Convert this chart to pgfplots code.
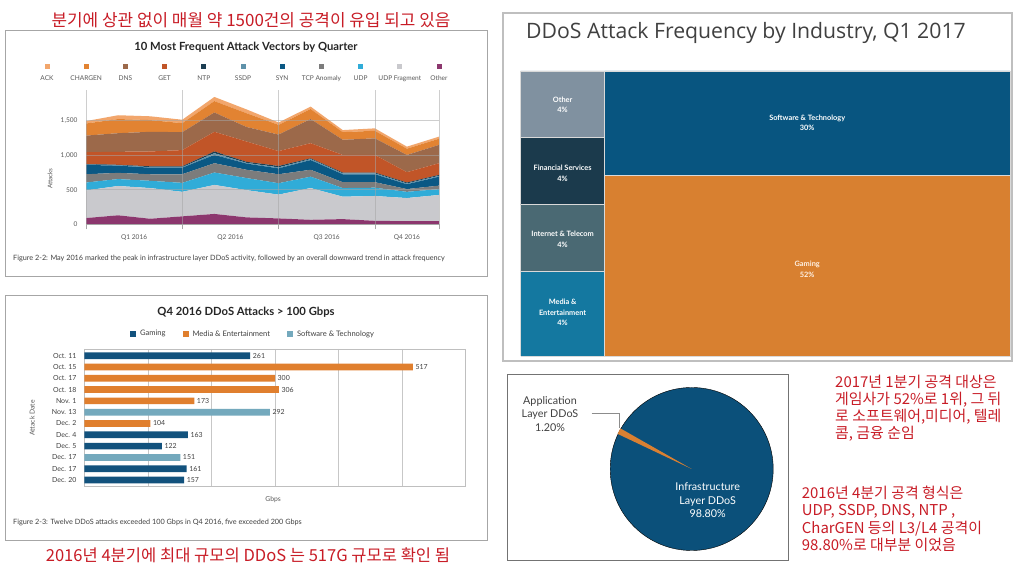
\documentclass[border=0pt]{standalone}
\usepackage{pgfplots}
\pgfplotsset{compat=1.18}
\usepackage{pgfplotstable}
\usepackage{fontspec}
\setmainfont{Lato}
\newfontfamily\kr{Noto Sans CJK KR}
\newfontfamily\ttl{Open Sans}

\definecolor{cAck}{RGB}{242,166,108}
\definecolor{cChargen}{RGB}{226,131,50}
\definecolor{cDns}{RGB}{156,105,74}
\definecolor{cGet}{RGB}{193,85,40}
\definecolor{cNtp}{RGB}{28,62,82}
\definecolor{cSsdp}{RGB}{95,146,170}
\definecolor{cSyn}{RGB}{10,88,132}
\definecolor{cTcp}{RGB}{124,124,124}
\definecolor{cUdp}{RGB}{48,172,216}
\definecolor{cUdpf}{RGB}{201,201,205}
\definecolor{cOther}{RGB}{140,55,110}

\definecolor{cGame}{RGB}{18,82,125}
\definecolor{cMediaB}{RGB}{224,127,46}
\definecolor{cSoft}{RGB}{116,169,189}

\definecolor{tOther}{RGB}{128,145,160}
\definecolor{tFin}{RGB}{27,58,76}
\definecolor{tNet}{RGB}{74,105,115}
\definecolor{tMedia}{RGB}{20,120,160}
\definecolor{tSoft}{RGB}{8,85,128}
\definecolor{tGame}{RGB}{216,128,48}

\definecolor{pBlue}{RGB}{11,80,122}
\definecolor{pOrange}{RGB}{217,128,50}
\definecolor{krred}{RGB}{200,28,38}

\newcommand{\lgbox}[1]{\makebox[39.2bp][c]{#1}}

\pgfplotstableread{
m other udpf udp tcp syn ssdp ntp get dns chargen ack
0 90 400 115 120 135 6 8 171 240 175 35
1 130 425 100 90 105 6 6 188 270 205 55
2 80 445 105 95 95 8 12 215 285 170 55
3 115 355 130 125 95 8 12 235 260 130 50
4 150 420 180 135 120 25 25 285 280 165 60
5 100 395 175 120 90 10 15 295 210 200 55
6 85 345 165 130 85 15 20 215 240 140 35
7 65 460 165 100 140 15 10 220 350 145 35
8 75 325 125 85 115 13 12 255 220 110 30
9 50 360 120 80 115 13 12 255 240 110 35
10 45 335 90 40 70 12 13 150 250 90 30
11 45 380 85 50 130 12 13 170 265 90 30
}\areadata

\begin{document}
\begin{tikzpicture}[x=1bp,y=1bp]
\path[use as bounding box, fill=white] (0,0) rectangle (1024,573);

% panel frames
\draw[black!35, line width=0.8bp] (5,297) rectangle (487,543);
\draw[black!35, line width=0.8bp] (5,33) rectangle (487,278);
\draw[black!25, line width=1.2bp] (503,212) rectangle (1012,560);
\draw[black!55, line width=1bp] (507,12) rectangle (788,198);

% ---------------- area chart ----------------
\begin{axis}[
  at={(86bp,348.7bp)}, anchor=south west,
  scale only axis, width=353bp, height=134.3bp,
  xmin=0, xmax=11, ymin=0, ymax=1946,
  stack plots=y, axis on top,
  axis x line*=bottom, axis y line*=left,
  y axis line style={draw=none},
  x axis line style={draw=black!35, line width=0.6bp},
  xtick={0,3,6,9,11}, xticklabels={,,,,},
  extra x ticks={1.5,4.5,7.5,10},
  extra x tick labels={Q1 2016,Q2 2016,Q3 2016,Q4 2016},
  extra x tick style={grid=none, major tick length=0pt},
  xmajorgrids, ymajorgrids,
  ytick={0,500,1000,1500},
  grid style={draw=black!35, line width=0.6bp, opacity=0.55},
  tick align=outside, major tick length=5bp,
  xtick style={draw=black!35, line width=0.6bp},
  ytick style={draw=none},
  /pgf/number format/.cd, 1000 sep={,}, assume math mode=true, /pgfplots/.cd,
  yticklabel style={font=\fontsize{6.6}{7}\selectfont, text=black!65},
  xticklabel style={font=\fontsize{6.6}{7}\selectfont, text=black!65, yshift=-7bp},
  ylabel={Attacks},
  ylabel style={at={(axis description cs:-0.102,0.34)}, anchor=center, font=\fontsize{6.4}{7}\selectfont, text=black!65},
  legend columns=11, reverse legend, legend cell align=center,
  legend image code/.code={\fill[#1,overlay] (17.1bp,9.5bp) rectangle (22.1bp,14.5bp);},
  legend style={at={(0.4448,1.082)}, anchor=center, draw=none, fill=none,
    /tikz/column sep=0pt, row sep=0pt,
    nodes={inner sep=0pt, font=\fontsize{6.6}{7}\selectfont, text=black!65}},
]
\addplot[fill=cOther, draw=none] table[x=m, y=other] {\areadata} \closedcycle;
\addlegendentry{\lgbox{Other}}
\addplot[fill=cUdpf, draw=none] table[x=m, y=udpf] {\areadata} \closedcycle;
\addlegendentry{\lgbox{UDP Fragment}}
\addplot[fill=cUdp, draw=none] table[x=m, y=udp] {\areadata} \closedcycle;
\addlegendentry{\lgbox{UDP}}
\addplot[fill=cTcp, draw=none] table[x=m, y=tcp] {\areadata} \closedcycle;
\addlegendentry{\lgbox{TCP Anomaly}}
\addplot[fill=cSyn, draw=none] table[x=m, y=syn] {\areadata} \closedcycle;
\addlegendentry{\lgbox{SYN}}
\addplot[fill=cSsdp, draw=none] table[x=m, y=ssdp] {\areadata} \closedcycle;
\addlegendentry{\lgbox{SSDP}}
\addplot[fill=cNtp, draw=none] table[x=m, y=ntp] {\areadata} \closedcycle;
\addlegendentry{\lgbox{NTP}}
\addplot[fill=cGet, draw=none] table[x=m, y=get] {\areadata} \closedcycle;
\addlegendentry{\lgbox{GET}}
\addplot[fill=cDns, draw=none] table[x=m, y=dns] {\areadata} \closedcycle;
\addlegendentry{\lgbox{DNS}}
\addplot[fill=cChargen, draw=none] table[x=m, y=chargen] {\areadata} \closedcycle;
\addlegendentry{\lgbox{CHARGEN}}
\addplot[fill=cAck, draw=none] table[x=m, y=ack] {\areadata} \closedcycle;
\addlegendentry{\lgbox{ACK}}
\end{axis}

\node[font=\bfseries\fontsize{11.3}{13}\selectfont, text=black!85] at (246,525.7) {10 Most Frequent Attack Vectors by Quarter};
\node[anchor=west, inner sep=0pt, font=\fontsize{7.3}{8}\selectfont, text=black!75] at (13,315) {Figure 2-2: May 2016 marked the peak in infrastructure layer DDoS activity, followed by an overall downward trend in attack frequency};

% ---------------- bar chart ----------------
\begin{axis}[
  at={(84.3bp,86.3bp)}, anchor=south west,
  scale only axis, width=381.4bp, height=137.7bp,
  xbar, bar shift=0pt, bar width=6.7bp,
  xmin=0, xmax=600, xtick={0,100,...,600}, xticklabels={,,,,,,},
  xmajorgrids, grid style={draw=black!22, line width=0.6bp},
  ymin=-0.59, ymax=11.59, y dir=reverse, ytick={0,...,11},
  yticklabels={Oct. 11,Oct. 15,Oct. 17,Oct. 18,Nov. 1,Nov. 13,Dec. 2,Dec. 4,Dec. 5,Dec. 17,Dec. 17,Dec. 20},
  axis line style={draw=black!25, line width=0.8bp},
  tick style={draw=none},
  yticklabel style={font=\fontsize{7}{8}\selectfont, text=black!75},
  nodes near coords, point meta=x,
  /pgf/number format/assume math mode=true,
  nodes near coords style={font=\fontsize{7}{8}\selectfont, text=black!75, anchor=west, inner sep=2.5bp},
  ylabel={Attack Date},
  ylabel style={at={(axis description cs:-0.137,0.5)}, anchor=center, font=\fontsize{6.8}{8}\selectfont, text=black!65},
  xlabel={Gbps},
  xlabel style={at={(axis description cs:0.495,-0.0966)}, anchor=center, font=\fontsize{6.8}{8}\selectfont, text=black!65},
  legend columns=3,
  legend image code/.code={\fill[#1] (0bp,-3bp) rectangle (6bp,3bp);},
  legend style={at={(0.441,1.109)}, anchor=center, draw=none, fill=none,
    /tikz/every odd column/.append style={column sep=3bp},
    /tikz/every even column/.append style={column sep=16bp},
    nodes={font=\fontsize{7.6}{8}\selectfont, text=black!75, inner sep=1bp}},
]
\addplot[fill=cGame, draw=none] coordinates {(261,0) (163,7) (122,8) (161,10) (157,11)};
\addlegendentry{Gaming}
\addplot[fill=cMediaB, draw=none] coordinates {(517,1) (300,2) (306,3) (173,4) (104,6)};
\addlegendentry{Media \& Entertainment}
\addplot[fill=cSoft, draw=none] coordinates {(292,5) (151,9)};
\addlegendentry{Software \& Technology}
\end{axis}

\node[font=\bfseries\fontsize{11.3}{13}\selectfont, text=black!85] at (246,260.3) {Q4 2016 DDoS Attacks > 100 Gbps};
\node[anchor=west, inner sep=0pt, font=\fontsize{7.3}{8}\selectfont, text=black!75] at (13,51) {Figure 2-3: Twelve DDoS attacks exceeded 100 Gbps in Q4 2016, five exceeded 200 Gbps};

% ---------------- treemap ----------------
\begin{axis}[
  at={(520.7bp,217bp)}, anchor=south west,
  scale only axis, width=489.3bp, height=285bp,
  xmin=0, xmax=489.3, ymin=0, ymax=285, hide axis, clip=false,
]
\addplot[fill=tMedia, draw=white!85!black, line width=0.8bp] coordinates {(0,0) (83.8,0) (83.8,84.3) (0,84.3) (0,0)};
\addplot[fill=tNet, draw=white!85!black, line width=0.8bp] coordinates {(0,84.3) (83.8,84.3) (83.8,151.7) (0,151.7) (0,84.3)};
\addplot[fill=tFin, draw=white!85!black, line width=0.8bp] coordinates {(0,151.7) (83.8,151.7) (83.8,218.3) (0,218.3) (0,151.7)};
\addplot[fill=tOther, draw=white!85!black, line width=0.8bp] coordinates {(0,218.3) (83.8,218.3) (83.8,285) (0,285) (0,218.3)};
\addplot[fill=tGame, draw=white!85!black, line width=0.8bp] coordinates {(83.8,0) (489.3,0) (489.3,181) (83.8,181) (83.8,0)};
\addplot[fill=tSoft, draw=white!85!black, line width=0.8bp] coordinates {(83.8,181) (489.3,181) (489.3,285) (83.8,285) (83.8,181)};
\node[align=center, text=white, font=\bfseries\fontsize{7.4}{10.5}\selectfont] at (axis cs:41.9,43.3) {Media \&\\Entertainment\\4\%};
\node[align=center, text=white, font=\bfseries\fontsize{7.4}{10.5}\selectfont] at (axis cs:41.9,116.7) {Internet \& Telecom\\4\%};
\node[align=center, text=white, font=\bfseries\fontsize{7.4}{10.5}\selectfont] at (axis cs:41.9,182.5) {Financial Services\\4\%};
\node[align=center, text=white, font=\bfseries\fontsize{7.4}{10.5}\selectfont] at (axis cs:41.9,251.3) {Other\\4\%};
\node[align=center, text=white, font=\bfseries\fontsize{7.4}{10.5}\selectfont] at (axis cs:286.5,233) {Software \& Technology\\30\%};
\node[align=center, text=white!90!orange, font=\bfseries\fontsize{7.4}{10.5}\selectfont] at (axis cs:286.5,86.5) {Gaming\\52\%};
\end{axis}

\node[anchor=west, inner sep=0pt, font=\ttl\fontsize{21.3}{24}\selectfont, text=black!75] at (526,540) {DDoS Attack Frequency by Industry, Q1 2017};

% ---------------- pie ----------------
\begin{axis}[
  at={(691.7bp,104bp)}, anchor=center,
  scale only axis, width=200bp, height=200bp,
  xmin=-100, xmax=100, ymin=-100, ymax=100, hide axis, clip=false,
]
\addplot[only marks, mark=*, mark size=81.5bp, mark options={fill=pBlue, draw=none}] coordinates {(0,0)};
\end{axis}
\begin{axis}[
  at={(691.7bp,104bp)}, anchor=center,
  scale only axis, width=200bp, height=200bp,
  xmin=-100, xmax=100, ymin=-100, ymax=100, hide axis, clip=false,
]
\addplot[fill=pOrange, draw=none] coordinates {(0,0) (-71.3,40.6) (-74.1,35.1) (0,0)};
\addplot[draw=black!45, line width=0.7bp] coordinates {(-100,55.5) (-72.2,55.5) (-72.2,40.5)};
\end{axis}

\node[align=center, font=\fontsize{10.8}{13.3}\selectfont, text=black!75] at (550,159) {Application\\Layer DDoS\\1.20\%};
\node[align=center, font=\fontsize{10.8}{13.3}\selectfont, text=white] at (707.7,72.7) {Infrastructure\\Layer DDoS\\98.80\%};

% ---------------- Korean annotations ----------------
\node[font=\kr\fontsize{17}{19}\selectfont, text=krred] at (251,553) {분기에 상관 없이 매월 약 1500건의 공격이 유입 되고 있음};
\node[font=\kr\fontsize{16.6}{19}\selectfont, text=krred] at (248,18) {2016년 4분기에 최대 규모의 DDoS 는 517G 규모로 확인 됨};

\begin{scope}[every node/.style={anchor=west, inner sep=0pt, font=\kr\fontsize{15}{17}\selectfont, text=krred}]
\node at (835,191.3) {2017년 1분기 공격 대상은};
\node at (835,173.7) {게임사가 52\%로 1위, 그 뒤};
\node at (835,156.3) {로 소프트웨어,미디어, 텔레};
\node at (835,139) {콤, 금융 순임};
\node at (801.7,79.7) {2016년 4분기 공격 형식은};
\node at (801.7,62) {UDP, SSDP, DNS, NTP ,};
\node at (801.7,44.7) {CharGEN 등의 L3/L4 공격이};
\node at (801.7,28) {98.80\%로 대부분 이었음};
\end{scope}
\end{tikzpicture}
\end{document}
